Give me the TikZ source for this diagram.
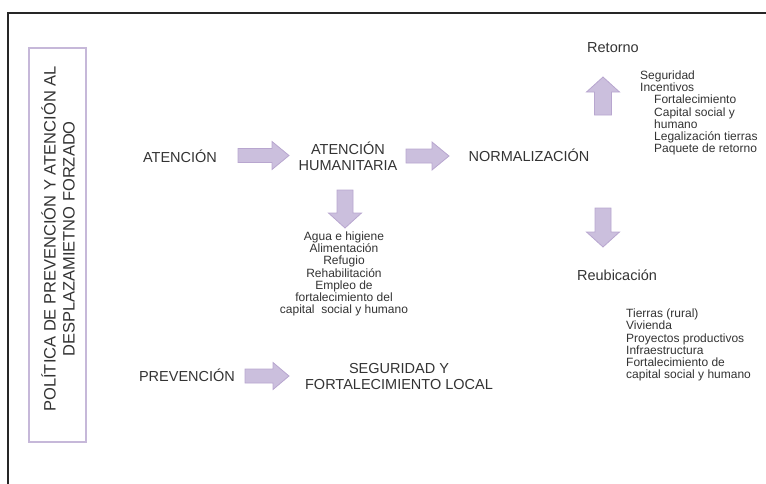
\documentclass[tikz,border=0pt]{standalone}
\usepackage{fontspec}
\setmainfont{Liberation Sans}
\definecolor{textgray}{HTML}{333333}
\definecolor{lilacfill}{HTML}{CBBFDD}
\definecolor{lilacline}{HTML}{B8A6CF}
\begin{document}
\begin{tikzpicture}
[x=1pt,y=-1pt,
  bigtext/.style={text=textgray,align=center,inner sep=0pt,font=\fontsize{14.5}{15.5}\selectfont},%
  smalltext/.style={text=textgray,inner sep=0pt,font=\fontsize{12}{12.2}\selectfont},%
  titletext/.style={text=textgray,align=center,inner sep=0pt,rotate=90,font=\fontsize{16.5}{19}\selectfont},%
  blockarrow/.style={fill=lilacfill,draw=lilacline,line width=0.8pt,line join=miter}]
\useasboundingbox (0,0) rectangle (766,483);
\clip (0,0) rectangle (766,483);
%% outer frame and title box
\draw[line width=1.4pt,draw=black!85] (8,13) rectangle (790,520);
\node (titlebox) [draw=lilacline!80,line width=1.5pt,minimum width=57pt,minimum height=394pt] at (57.5,245) {};
\node (title) [titletext] at (58,239) {POLÍTICA DE PREVENCIÓN Y ATENCIÓN AL\\DESPLAZAMIETNO FORZADO};
%% main labels
\foreach \nodename/\x/\y/\label in {atencion/180/156/ATENCIÓN,
  humanitaria/348/156.5/ATENCIÓN\\HUMANITARIA, normalizacion/529/155/NORMALIZACIÓN,
  retorno/613/48/Retorno, reubicacion/617/275/Reubicación,
  prevencion/187/375/PREVENCIÓN, seguridad/399/376.5/SEGURIDAD Y\\FORTALECIMIENTO LOCAL} {
  \node (\nodename) at (\x,\y) [bigtext] {\label};
}
%% lists
\node (needs) at (344,274) [smalltext,align=center] {Agua e higiene\\Alimentación\\Refugio\\Rehabilitación\\Empleo de\\fortalecimiento del\\capital\ \ social y humano};
\node (returnlist) at (640,113) [smalltext,align=left,anchor=west] {Seguridad\\Incentivos\\\hspace*{14pt}Fortalecimiento\\\hspace*{14pt}Capital social y\\\hspace*{14pt}humano\\\hspace*{14pt}Legalización tierras\\\hspace*{14pt}Paquete de retorno};
\node (relocatelist) at (626,345) [smalltext,align=left,anchor=west] {Tierras (rural)\\Vivienda\\Proyectos productivos\\Infraestructura\\Fortalecimiento de\\capital social y humano};
%% block arrows: centre, angle, length, half shaft, half head, head length
\foreach \x/\y/\ang/\len/\sh/\hh/\hl in {263.5/155.5/0/51/7/14/17,
  427.5/156/0/43/7/14/17, 267/376/0/44/7/13.5/16,
  345/209/-90/38/8/16.5/15, 603/96/90/38/8.5/16.5/15, 603/227.5/-90/39/8/16.5/15} {
  \draw[blockarrow,shift={(\x,\y)},rotate=\ang]
    (-\len/2,-\sh) -- (\len/2-\hl,-\sh) -- (\len/2-\hl,-\hh) -- (\len/2,0)
    -- (\len/2-\hl,\hh) -- (\len/2-\hl,\sh) -- (-\len/2,\sh) -- cycle;
}
\end{tikzpicture}
\end{document}
